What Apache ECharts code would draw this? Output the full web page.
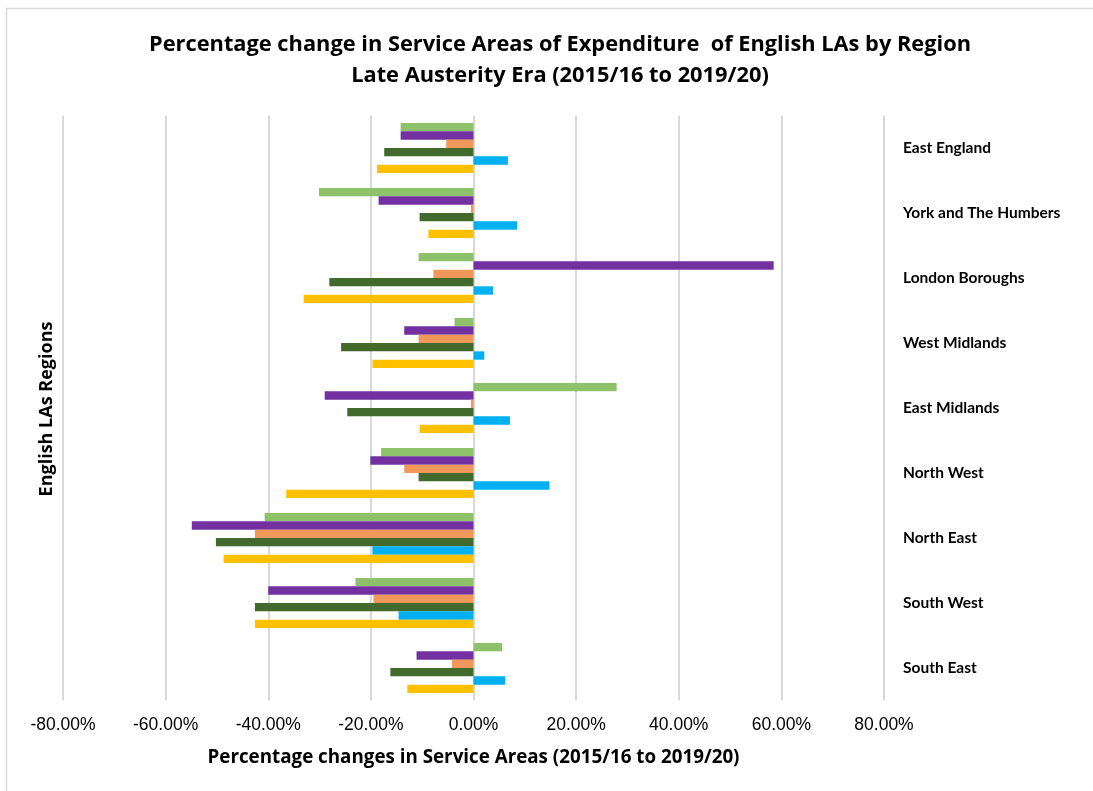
<!DOCTYPE html>
<html>
<head>
<meta charset="utf-8">
<script src="https://cdn.jsdelivr.net/npm/echarts@6/dist/echarts.min.js"></script>
<style>
  html, body { margin: 0; padding: 0; background: #fff; }
  #chart { width: 1093px; height: 791px; }
</style>
</head>
<body>
<div id="chart"></div>
<script>
// Regions, listed top to bottom
const regions = [
  'East England', 'York and The Humbers', 'London Boroughs', 'West Midlands',
  'East Midlands', 'North West', 'North East', 'South West', 'South East'
];

// Percentage change per service area, one array per series (same order as regions)
const areaA = [-14.2, -30.1, -10.7,  -3.7,  27.9, -18.0, -40.7, -23.0,   5.6];
const areaB = [-14.2, -18.5,  58.5, -13.5, -29.0, -20.1, -54.9, -40.0, -11.1];
const areaC = [ -5.3,  -0.5,  -7.8, -10.7,  -0.5, -13.5, -42.6, -19.5,  -4.2];
const areaD = [-17.4, -10.5, -28.1, -25.8, -24.6, -10.7, -50.2, -42.6, -16.2];
const areaE = [  6.7,   8.5,   3.8,   2.1,   7.1,  14.8, -19.7, -14.6,   6.2];
const areaF = [-18.8,  -8.8, -33.1, -19.7, -10.5, -36.5, -48.7, -42.6, -12.9];

const seriesNames = ['Area A', 'Area B', 'Area C', 'Area D', 'Area E', 'Area F'];
const seriesData = [areaA, areaB, areaC, areaD, areaE, areaF];
const seriesColors = ['#8DC26A', '#7230A0', '#F0975A', '#426A2C', '#00B0F0', '#FFC000'];

const HEAD_FONT = 'Open Sans';
const LABEL_FONT = 'Lato';

const chart = echarts.init(document.getElementById('chart'), null, { renderer: 'canvas' });

chart.setOption({
  backgroundColor: '#ffffff',
  animation: false,
  title: {
    text: 'Percentage change in Service Areas of Expenditure  of English LAs by Region\nLate Austerity Era (2015/16 to 2019/20)',
    left: 555,
    top: 24,
    textAlign: 'center',
    textStyle: {
      fontFamily: HEAD_FONT,
      fontWeight: 'bold',
      fontSize: 21.8,
      lineHeight: 31,
      color: '#000'
    }
  },
  grid: {
    left: 63,
    right: 209,
    top: 115.5,
    bottom: 90.5,
    containLabel: false
  },
  xAxis: {
    type: 'value',
    min: -80,
    max: 80,
    interval: 20,
    name: 'Percentage changes in Service Areas (2015/16 to 2019/20)',
    nameLocation: 'middle',
    nameGap: 48,
    nameTextStyle: {
      fontFamily: HEAD_FONT,
      fontWeight: 'bold',
      fontSize: 18.8,
      color: '#000'
    },
    axisLine: { show: false },
    axisTick: { show: false },
    axisLabel: {
      margin: 16,
      fontFamily: 'Liberation Sans',
      fontSize: 17.5,
      color: '#000',
      formatter: v => v.toFixed(2) + '%'
    },
    splitLine: { show: true, lineStyle: { color: '#d9d9d9', width: 2 } }
  },
  yAxis: {
    type: 'category',
    data: regions,
    inverse: true,
    position: 'right',
    axisLine: { show: false },
    axisTick: { show: false },
    splitLine: { show: false },
    axisLabel: {
      align: 'left',
      margin: 19,
      fontFamily: LABEL_FONT,
      fontWeight: 'bold',
      fontSize: 15.5,
      color: '#000'
    }
  },
  graphic: [
    {
      type: 'rect',
      shape: { x: 6.5, y: 8.5, width: 1100, height: 800 },
      style: { fill: 'none', stroke: '#d9d9d9', lineWidth: 1.5 },
      silent: true
    },
    {
      type: 'text',
      x: 47,
      y: 409,
      rotation: Math.PI / 2,
      style: {
        text: 'English LAs Regions',
        fontFamily: HEAD_FONT,
        fontWeight: 'bold',
        fontSize: 18,
        fill: '#000',
        align: 'center',
        verticalAlign: 'middle'
      }
    }
  ],
  series: seriesData.map((data, i) => ({
    name: seriesNames[i],
    type: 'bar',
    data: data,
    barGap: '0%',
    barCategoryGap: '23%',
    itemStyle: { color: seriesColors[i] }
  }))
});
</script>
</body>
</html>
